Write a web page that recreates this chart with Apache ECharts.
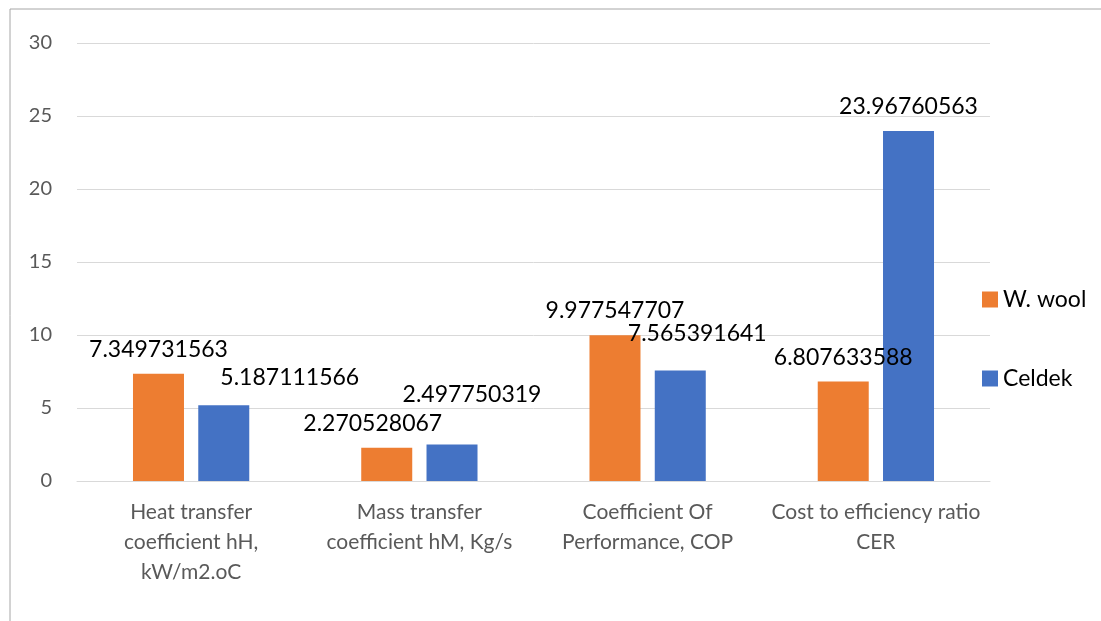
<!DOCTYPE html>
<html lang="en">
<head>
    <meta charset="UTF-8">
    <title>W. wool vs Celdek</title>
    <script src="https://cdn.jsdelivr.net/npm/echarts@6/dist/echarts.min.js"></script>
    <style>
        html, body { margin: 0; padding: 0; background: #fff; }
        #main { width: 1101px; height: 621px; }
    </style>
</head>
<body>
    <div id="main"></div>
    <script>
        // data
        var categories = [
            'Heat transfer\ncoefficient hH,\nkW/m2.oC',
            'Mass transfer\ncoefficient hM, Kg/s',
            'Coefficient Of\nPerformance, COP',
            'Cost to efficiency ratio\nCER'
        ];
        var woolValues = [7.349731563, 2.270528067, 9.977547707, 6.807633588];
        var celdekValues = [5.187111566, 2.497750319, 7.565391641, 23.96760563];
        var yTicks = [0, 5, 10, 15, 20, 25, 30];

        var font = 'Lato, "Open Sans", sans-serif';
        var chart = echarts.init(document.getElementById('main'));

        function labelCfg() {
            return {
                show: true,
                position: 'top',
                distance: 13,
                color: '#000',
                fontSize: 23,
                fontFamily: font,
                formatter: function (p) { return String(p.value); }
            };
        }

        // labels nudged apart like the original chart does where they collide
        var woolNudge = { 1: [-14, 0] };
        var celdekNudge = { 0: [66, -3], 1: [20, -25], 2: [17, -12] };
        function withNudge(values, nudge) {
            return values.map(function (v, i) {
                if (!nudge[i]) return v;
                return { value: v, label: { offset: nudge[i] } };
            });
        }

        var option = {
            animation: false,
            graphic: [{
                type: 'rect',
                shape: { x: 10, y: 9, width: 1200, height: 700 },
                style: { fill: 'none', stroke: '#a6a6a6', lineWidth: 1 },
                silent: true
            }],
            grid: { left: 77, right: 111, top: 43, bottom: 140 },
            legend: {
                orient: 'vertical',
                left: 977,
                top: 283,
                itemGap: 56,
                itemWidth: 16,
                itemHeight: 16,
                icon: 'rect',
                textStyle: { fontSize: 23, color: '#000', fontFamily: font },
                data: ['W. wool', 'Celdek']
            },
            xAxis: {
                type: 'category',
                data: categories,
                axisTick: { show: false },
                axisLine: { lineStyle: { color: '#d9d9d9' } },
                axisLabel: {
                    color: '#595959',
                    fontSize: 21,
                    fontFamily: font,
                    lineHeight: 30,
                    margin: 16,
                    interval: 0
                }
            },
            yAxis: {
                type: 'value',
                min: yTicks[0],
                max: yTicks[yTicks.length - 1],
                interval: 5,
                axisLine: { show: false },
                axisTick: { show: false },
                splitLine: { lineStyle: { color: '#d9d9d9' } },
                axisLabel: { color: '#595959', fontSize: 20, fontFamily: font, margin: 25 }
            },
            series: [{
                name: 'W. wool',
                type: 'bar',
                data: withNudge(woolValues, woolNudge),
                barWidth: 51,
                barGap: '28%',
                itemStyle: { color: '#ed7d31' },
                label: labelCfg()
            }, {
                name: 'Celdek',
                type: 'bar',
                data: withNudge(celdekValues, celdekNudge),
                barWidth: 51,
                itemStyle: { color: '#4472c4' },
                label: labelCfg()
            }]
        };

        chart.setOption(option);
    </script>
</body>
</html>
